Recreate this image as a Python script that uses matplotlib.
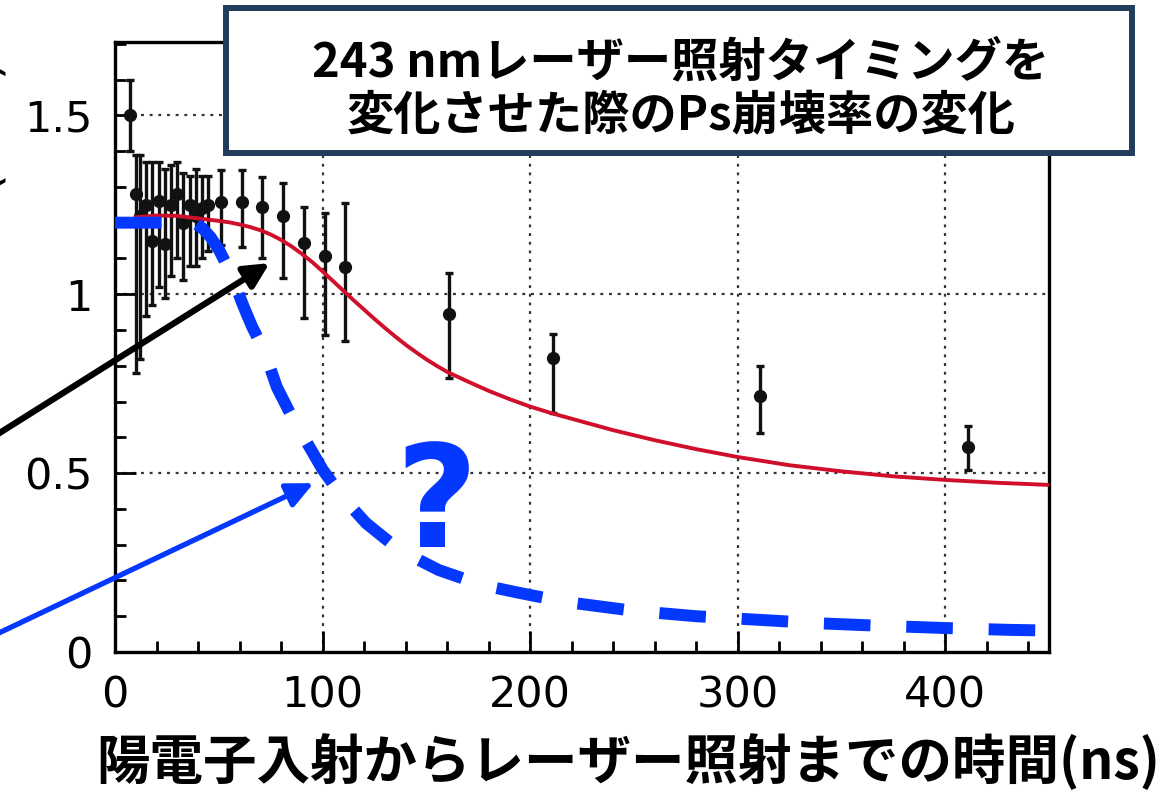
import numpy as np
import matplotlib
matplotlib.use("Agg")
import matplotlib.pyplot as plt
from matplotlib.patches import Rectangle

# ---------------- data ----------------
# measured points: time (ns), rate, lower / upper end of error bar
t_pts = [7, 10, 12, 15, 18, 21, 24, 27, 30, 33, 36, 39, 42, 45,
         51, 61, 71, 81, 91, 101, 111, 161, 211, 311, 411]
rate_pts = [1.50, 1.28, 1.22, 1.25, 1.15, 1.26, 1.14, 1.25, 1.28, 1.20, 1.25, 1.22, 1.24, 1.25,
            1.257, 1.257, 1.243, 1.218, 1.142, 1.106, 1.075, 0.946, 0.823, 0.716, 0.572]
rate_hi = [1.60, 1.39, 1.39, 1.37, 1.37, 1.37, 1.35, 1.36, 1.37, 1.34, 1.33, 1.35, 1.33, 1.33,
           1.346, 1.346, 1.327, 1.310, 1.243, 1.226, 1.254, 1.058, 0.890, 0.799, 0.632]
rate_lo = [1.40, 0.78, 0.82, 0.94, 0.97, 1.02, 0.99, 1.05, 1.10, 1.04, 1.08, 1.08, 1.10, 1.12,
           1.137, 1.131, 1.101, 1.045, 0.933, 0.885, 0.870, 0.765, 0.668, 0.611, 0.508]

# red fit curve
fit_t = [10, 20, 30, 40, 50, 55, 60, 65, 70, 75, 80, 85, 90, 95, 100, 105, 110, 115, 120,
         125, 130, 135, 140, 145, 150, 155, 160, 170, 180, 190, 200, 210, 220, 240, 260,
         280, 300, 325, 350, 375, 400, 425, 450]
fit_rate = [1.215, 1.22, 1.219, 1.212, 1.205, 1.201, 1.195, 1.188, 1.179, 1.167, 1.152,
            1.134, 1.113, 1.090, 1.064, 1.037, 1.010, 0.983, 0.957, 0.931, 0.906, 0.882,
            0.859, 0.838, 0.818, 0.800, 0.783, 0.756, 0.730, 0.707, 0.686, 0.668, 0.652,
            0.620, 0.592, 0.567, 0.545, 0.522, 0.505, 0.491, 0.481, 0.473, 0.467]

# blue hand-drawn expectation curve
exp_t = [0, 25, 33, 38, 42, 46, 50, 54, 58, 62, 66, 72, 78, 85, 92, 100, 110, 121, 137, 156,
         177, 195, 217, 250, 280, 310, 340, 370, 400, 430, 450]
exp_rate = [1.20, 1.20, 1.205, 1.20, 1.185, 1.16, 1.125, 1.08, 1.025, 0.965, 0.91, 0.84, 0.74,
            0.66, 0.59, 0.51, 0.43, 0.36, 0.285, 0.229, 0.187, 0.165, 0.14, 0.115, 0.10,
            0.09, 0.08, 0.073, 0.067, 0.062, 0.06]

x_ticks = [0, 100, 200, 300, 400]
y_ticks = [0, 0.5, 1, 1.5]
y_tick_labels = ["0", "0.5", "1", "1.5"]

title_text = "243 nmレーザー照射タイミングを\n変化させた際のPs崩壊率の変化"
xlabel_text = "陽電子入射からレーザー照射までの時間(ns)"
ylabel_text = "Ratio (a.u.)"

BLUE = "#0538ff"
RED = "#d0102a"
NAVY = "#213d5b"

# ---------------- figure ----------------
W, H = 1163, 792
fig = plt.figure(figsize=(W / 100, H / 100), dpi=100)
ax = fig.add_axes([115 / W, 1 - 652 / H, (1049 - 115) / W, (652 - 42) / H])
ax.set_xlim(0, 450)
ax.set_ylim(0, 1.705)

# grid
for xv in x_ticks[1:]:
    ax.axvline(xv, color="#333333", lw=1.6, ls=(0, (1.3, 2.6)), zorder=1)
for yv in y_ticks[1:]:
    ax.axhline(yv, color="#333333", lw=1.6, ls=(0, (1.3, 2.6)), zorder=1)

# data with error bars
t = np.array(t_pts)
r = np.array(rate_pts)
err = np.vstack([r - np.array(rate_lo), np.array(rate_hi) - r])
ax.errorbar(t, r, yerr=err, fmt="o", color="#111111", ms=8.5, elinewidth=2.4,
            capsize=3, capthick=2.4, zorder=4)

# red fit curve
ax.plot(fit_t, fit_rate, color=RED, lw=2.8, zorder=5)

# blue dashed expectation
ln, = ax.plot(exp_t, exp_rate, color=BLUE, lw=8.6, zorder=6, solid_capstyle="butt",
              dash_capstyle="butt", clip_on=False)
ln.set_dashes((3.9, 3.0))

# question mark
ax.text(155, 0.405, "?", color=BLUE, fontsize=102, fontweight="bold",
        family="DejaVu Sans", ha="center", va="center", zorder=7)

# arrows (start off the left edge of the figure)
ax.annotate("", xy=(74.5, 1.087), xycoords="data",
            xytext=(-0.01, 1 - 440 / H), textcoords="figure fraction",
            arrowprops=dict(arrowstyle="-|>,head_length=1.5,head_width=0.75",
                            color="black", lw=4.5, shrinkA=0, shrinkB=0),
            annotation_clip=False, zorder=8)
ax.annotate("", xy=(95.7, 0.472), xycoords="data",
            xytext=(-0.01, 1 - 638 / H), textcoords="figure fraction",
            arrowprops=dict(arrowstyle="-|>,head_length=1.6,head_width=0.75",
                            color=BLUE, lw=3.8, shrinkA=0, shrinkB=0),
            annotation_clip=False, zorder=8)

# axes styling
ax.set_xticks(x_ticks)
ax.set_yticks(y_ticks)
ax.set_yticklabels(y_tick_labels)
ax.set_xticks(np.arange(0, 451, 20), minor=True)
ax.set_yticks(np.arange(0, 1.71, 0.1), minor=True)
ax.tick_params(which="major", direction="in", length=15, width=2, labelsize=31, pad=16,
               top=False, right=False)
ax.tick_params(which="minor", direction="in", length=8, width=2, top=False, right=False)
for lab in ax.get_xticklabels() + ax.get_yticklabels():
    lab.set_family("DejaVu Sans")
for s in ax.spines.values():
    s.set_linewidth(2.4)
    s.set_color("black")

# title box
fig.patches.append(Rectangle((226 / W, 1 - 153 / H), (1132 - 226) / W, (153 - 8) / H,
                             transform=fig.transFigure, facecolor="white",
                             edgecolor=NAVY, lw=4.3, zorder=10))
fig.text(681 / W, 1 - 89 / H, title_text, ha="center", va="center", fontsize=34,
         fontweight="bold", family=["Noto Sans CJK JP", "DejaVu Sans"],
         linespacing=1.16, zorder=11)

# x label
fig.text(628 / W, 1 - 763 / H, xlabel_text, ha="center", va="center", fontsize=38.5,
         fontweight="bold", family=["Noto Sans CJK JP", "DejaVu Sans"])

# cropped y label (only a sliver visible at the left edge, as in the reference)
fig.text(10 / W, 1 - 337 / H, ylabel_text, ha="right", va="bottom", rotation=90,
         fontsize=36, family="DejaVu Sans")

fig.savefig("out.png", dpi=100)
